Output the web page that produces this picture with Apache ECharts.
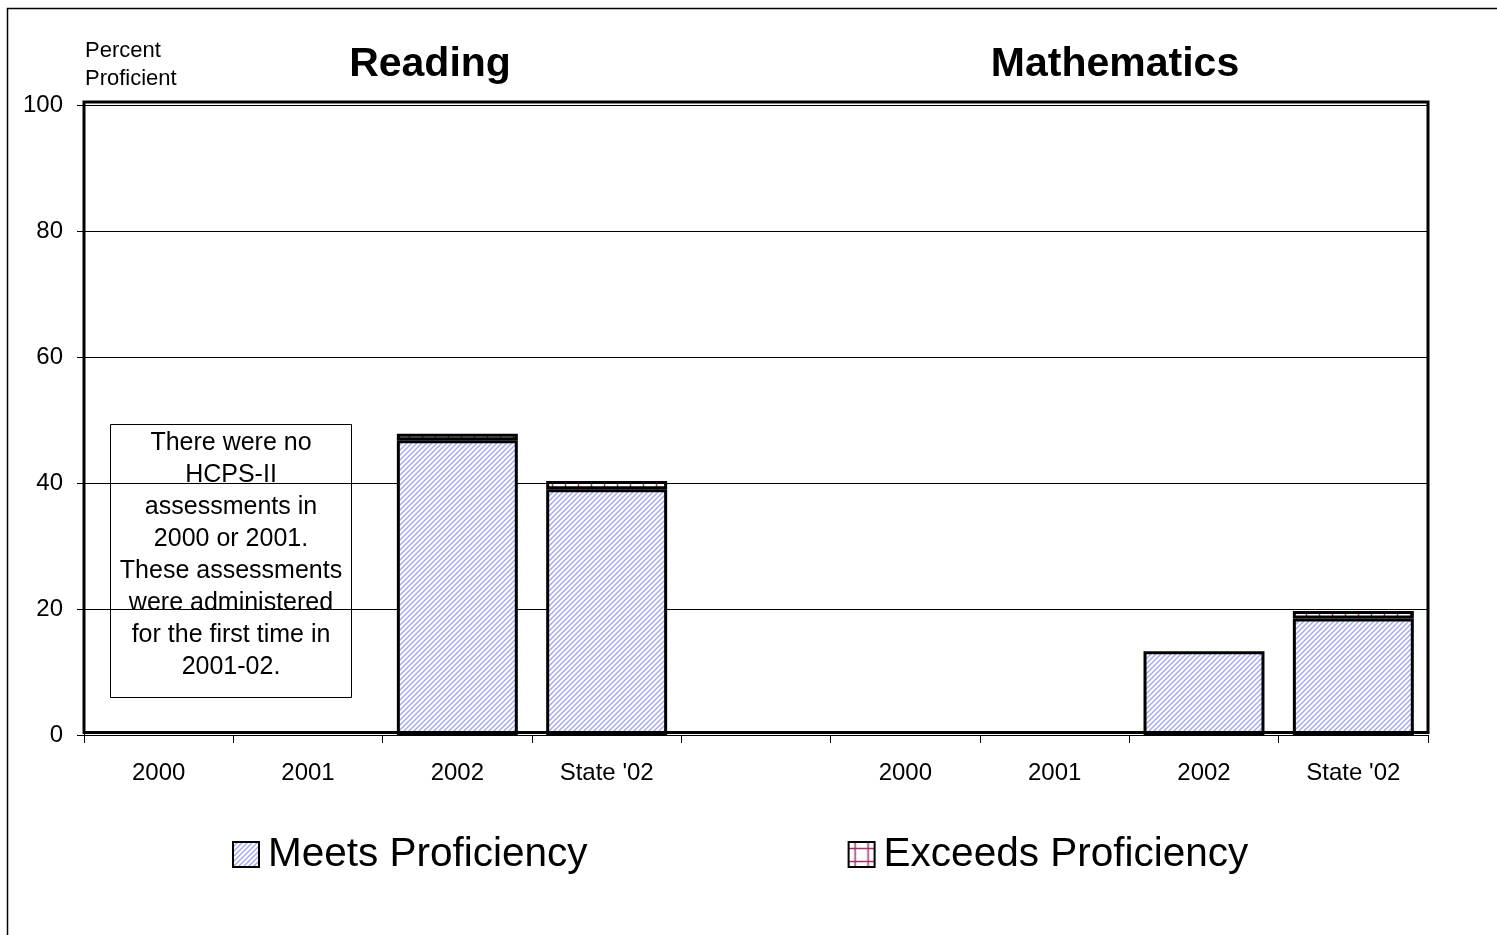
<!DOCTYPE html>
<html>
<head>
<meta charset="utf-8">
<script src="https://cdn.jsdelivr.net/npm/echarts@6/dist/echarts.min.js"></script>
<style>
  html, body { margin: 0; padding: 0; background: #fff; }
  #chart { width: 1497px; height: 935px; }
</style>
</head>
<body>
<div id="chart"></div>
<script>
// categories, one blank slot between the two subjects
const categories = ['2000', '2001', '2002', "State '02", '', '2000', '2001', '2002', "State '02"]
const meets = [null, null, 46.8, 39.0, null, null, null, 13.3, 18.5]
const exceeds = [null, null, 1.0, 1.3, null, null, null, null, 1.2]
const yTicks = [0, 20, 40, 60, 80, 100]
const noteLines = [
  'There were no',
  'HCPS-II',
  'assessments in',
  '2000 or 2001.',
  'These assessments',
  'were administered',
  'for the first time in',
  '2001-02.'
]

const FONT = 'Liberation Sans, Arial, sans-serif'

// diagonal hatch for "Meets"
function hatchPattern() {
  const s = 5
  const c = document.createElement('canvas')
  c.width = s
  c.height = s
  const ctx = c.getContext('2d')
  ctx.fillStyle = '#ffffff'
  ctx.fillRect(0, 0, s, s)
  ctx.strokeStyle = '#a3a7f3'
  ctx.lineWidth = 1.4
  ctx.beginPath()
  ctx.moveTo(0, s); ctx.lineTo(s, 0)
  ctx.moveTo(-1, 1); ctx.lineTo(1, -1)
  ctx.moveTo(s - 1, s + 1); ctx.lineTo(s + 1, s - 1)
  ctx.stroke()
  return c
}

// maroon ticks / grid for "Exceeds"
function gridPattern(withHorizontal) {
  const c = document.createElement('canvas')
  c.width = 13
  c.height = 13
  const ctx = c.getContext('2d')
  ctx.fillStyle = '#ffffff'
  ctx.fillRect(0, 0, 13, 13)
  ctx.strokeStyle = '#a3326a'
  ctx.lineWidth = 1.5
  ctx.beginPath()
  ctx.moveTo(6.5, 0); ctx.lineTo(6.5, 13)
  if (withHorizontal) {
    ctx.moveTo(0, 6.5); ctx.lineTo(13, 6.5)
  }
  ctx.stroke()
  return c
}

const meetsFill = { image: hatchPattern(), repeat: 'repeat' }
const exceedsFill = { image: gridPattern(false), repeat: 'repeat' }
const exceedsLegendFill = { image: gridPattern(true), repeat: 'repeat' }

const chart = echarts.init(document.getElementById('chart'))

const option = {
  backgroundColor: '#ffffff',
  animation: false,
  textStyle: { fontFamily: FONT },
  title: [
    {
      text: 'Reading',
      left: 430,
      top: 44,
      padding: 0,
      textAlign: 'center',
      textStyle: { fontFamily: FONT, fontSize: 41, fontWeight: 'bold', color: '#000' }
    },
    {
      text: 'Mathematics',
      left: 1115,
      top: 44,
      padding: 0,
      textAlign: 'center',
      textStyle: { fontFamily: FONT, fontSize: 41, fontWeight: 'bold', color: '#000' }
    },
    {
      text: 'Percent\nProficient',
      left: 85,
      top: 37,
      padding: 0,
      textStyle: { fontFamily: FONT, fontSize: 22, fontWeight: 'normal', color: '#000', lineHeight: 28 }
    }
  ],
  legend: {
    left: 232,
    top: 834,
    padding: 0,
    itemWidth: 26,
    itemHeight: 25,
    itemGap: 260,
    icon: 'rect',
    itemStyle: { borderColor: '#000', borderWidth: 2 },
    textStyle: { fontFamily: FONT, fontSize: 40.5, color: '#000', padding: [0, 0, 0, 4] },
    data: [
      { name: 'Meets Proficiency', itemStyle: { color: meetsFill } },
      { name: 'Exceeds Proficiency', itemStyle: { color: exceedsLegendFill } }
    ]
  },
  grid: {
    left: 84,
    right: 69,
    top: 105,
    bottom: 200
  },
  xAxis: {
    type: 'category',
    data: categories,
    boundaryGap: true,
    axisLine: { show: true, lineStyle: { color: '#000', width: 1 } },
    axisTick: { show: true, length: 8, lineStyle: { color: '#000', width: 1 } },
    axisLabel: { margin: 26, fontFamily: FONT, fontSize: 24, color: '#000', interval: 0 },
    splitLine: { show: false }
  },
  yAxis: {
    type: 'value',
    min: yTicks[0],
    max: yTicks[yTicks.length - 1],
    interval: 20,
    axisLine: { show: true, lineStyle: { color: '#000', width: 1 } },
    axisTick: { show: true, length: 7, lineStyle: { color: '#000', width: 1 } },
    axisLabel: { margin: 21, fontFamily: FONT, fontSize: 24, color: '#000' },
    splitLine: { show: true, lineStyle: { color: '#000', width: 1 } }
  },
  series: [
    {
      name: 'Meets Proficiency',
      type: 'bar',
      stack: 'total',
      barCategoryGap: '19%',
      data: meets,
      itemStyle: { color: meetsFill, borderColor: '#000', borderWidth: 3 }
    },
    {
      name: 'Exceeds Proficiency',
      type: 'bar',
      stack: 'total',
      barCategoryGap: '19%',
      data: exceeds,
      itemStyle: { color: exceedsFill, borderColor: '#000', borderWidth: 3 }
    }
  ],
  graphic: [
    // outer frame
    {
      type: 'rect',
      silent: true,
      shape: { x: 7.5, y: 8.5, width: 1600, height: 1000 },
      style: { fill: 'none', stroke: '#000', lineWidth: 1.5 }
    },
    // plot frame
    {
      type: 'rect',
      silent: true,
      z: 10,
      shape: { x: 84, y: 102, width: 1344, height: 630.5 },
      style: { fill: 'none', stroke: '#000', lineWidth: 3 }
    },
    // note box
    {
      type: 'group',
      left: 110,
      top: 424,
      z: 20,
      children: [
        {
          type: 'rect',
          shape: { x: 0, y: 0, width: 241, height: 273 },
          style: { fill: '#fff', stroke: '#000', lineWidth: 1 }
        },
        {
          type: 'text',
          x: 120.5,
          y: 3,
          style: {
            text: noteLines.join('\n'),
            fontFamily: FONT,
            fontSize: 25,
            lineHeight: 32,
            fill: '#000',
            align: 'center',
            verticalAlign: 'top'
          }
        }
      ]
    }
  ]
}

chart.setOption(option)
</script>
</body>
</html>
